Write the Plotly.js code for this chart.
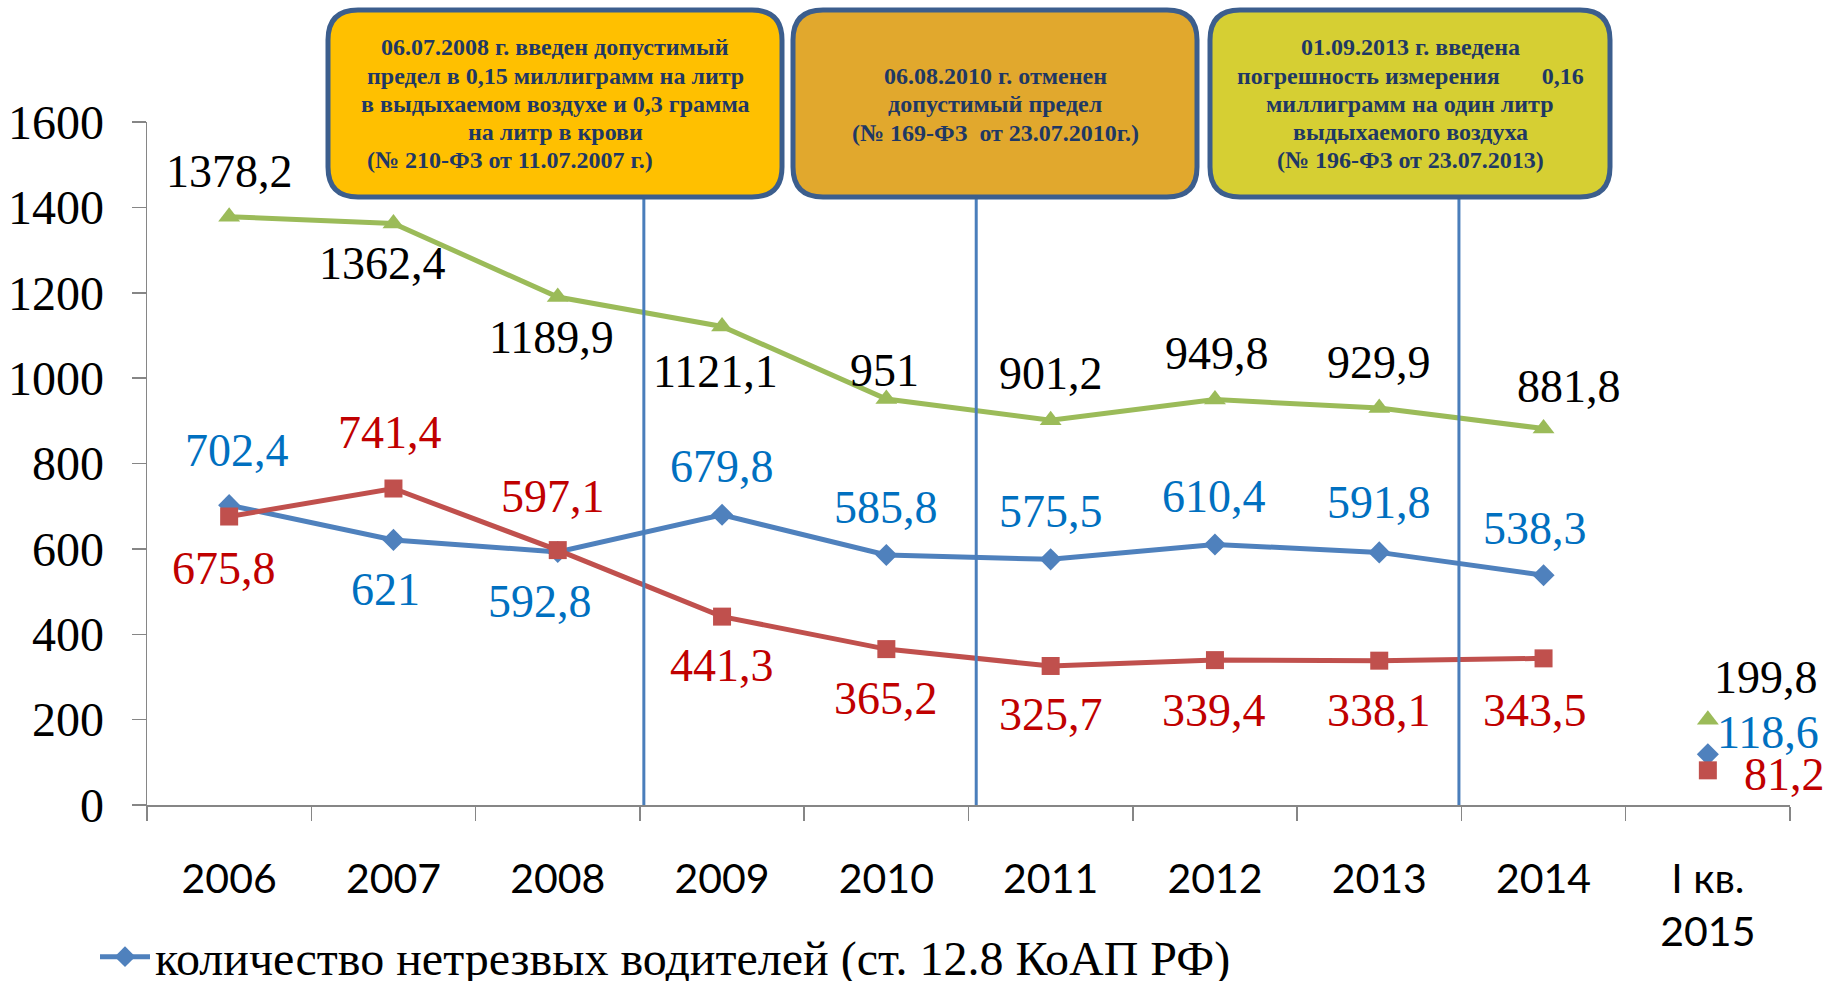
<!DOCTYPE html>
<html><head><meta charset="utf-8">
<script src="https://cdn.plot.ly/plotly-3.0.1.min.js"></script>
<style>html,body{margin:0;padding:0;background:#fff;overflow:hidden}#chart{width:1831px;height:981px}</style>
</head><body><div id="chart"></div>
<script>
// ---- data ----
const categories = ['2006','2007','2008','2009','2010','2011','2012','2013','2014','I кв.<br>2015'];
const drunkDrivers = [702.4, 621, 592.8, 679.8, 585.8, 575.5, 610.4, 591.8, 538.3, 118.6];
const seriesRed = [675.8, 741.4, 597.1, 441.3, 365.2, 325.7, 339.4, 338.1, 343.5, 81.2];
const seriesGreen = [1378.2, 1362.4, 1189.9, 1121.1, 951, 901.2, 949.8, 929.9, 881.8, 199.8];
const yTickVals = [0, 200, 400, 600, 800, 1000, 1200, 1400, 1600];
const nameBlue = 'количество нетрезвых водителей (ст. 12.8 КоАП РФ)';
const nameRed = 'Ряд 2';
const nameGreen = 'Ряд 3';
const eventPos = [2.524, 4.547, 7.485];
const eventLines = [
  ['06.07.2008 г. введен допустимый','предел в 0,15 миллиграмм на литр','в выдыхаемом воздухе и 0,3 грамма','на литр в крови','(№ 210-ФЗ от 11.07.2007 г.)'],
  ['06.08.2010 г. отменен','допустимый предел','(№ 169-ФЗ  от 23.07.2010г.)'],
  ['01.09.2013 г. введена','погрешность измерения\u00a0\u00a0\u00a0\u00a0\u00a0\u00a0 0,16','миллиграмм на один литр','выдыхаемого воздуха','(№ 196-ФЗ от 23.07.2013)']
];

// ---- styles / label offsets (px) ----
const offGreen = [[0,45],[-11,-40],[-6,-40],[-7,-45],[-2,29],[0,47],[2,46],[0,46],[25,42],[58,42]];
const offBlue  = [[8,55],[-8,-50],[-18,-50],[0,48],[0,47],[0,48],[-1,48],[0,50],[-9,47],[60,22]];
const offRed   = [[-5,-52],[-3,56],[-5,54],[0,-49],[0,-49],[0,-49],[-1,-50],[0,-50],[-9,-52],[77,-4]];

const cBlue='#4F81BD', cRed='#C0504D', cGreen='#9BBB59';
const n = 9;
function fmt(v){return String(v).replace('.', ',');}

function mk(name, vals, color, symbol, size, legend){
  return [
    {type:'scatter', mode:'lines+markers', x:categories.slice(0,n), y:vals.slice(0,n), name:name,
     line:{color:color,width:5}, marker:{symbol:symbol,size:size,color:color}, showlegend:legend, hoverinfo:'x+y'},
    {type:'scatter', mode:'markers', x:categories.slice(n), y:vals.slice(n), name:name,
     marker:{symbol:symbol,size:size,color:color}, showlegend:false, hoverinfo:'x+y'}
  ];
}
const traces = [].concat(
  mk(nameBlue, drunkDrivers, cBlue, 'diamond', 17, true),
  mk(nameRed, seriesRed, cRed, 'square', 18, false),
  mk(nameGreen, seriesGreen, cGreen, 'triangle-up', 19, false)
);

const annotations = [];
function addLabels(vals, offs, color){
  vals.forEach((v,i)=>annotations.push({x:i, y:v, xref:'x', yref:'y', text:fmt(v), showarrow:false,
    xanchor:'center', yanchor:'middle',
    xshift:offs[i][0], yshift:offs[i][1], font:{family:'Liberation Serif, Times New Roman, serif', size:46, color:color}}));
}
addLabels(seriesGreen, offGreen, '#000000');
addLabels(drunkDrivers, offBlue, '#0070C0');
addLabels(seriesRed, offRed, '#C00000');

// boxes (paper coords)
const PL=147, PW=1643, PB=805, PH=683;
function px2x(p){return (p-PL)/PW;}
function px2y(p){return (PB-p)/PH;}
const boxes = [
  {x0:328, x1:782, fill:'#FFC000', tx:[555,555,555,555,510], y0:47.5, dy:28.2},
  {x0:793, x1:1197, fill:'#E1A82D', tx:[995,995,995], y0:75.9, dy:28.5},
  {x0:1210, x1:1610, fill:'#D6CF33', tx:[1410,1410,1410,1410,1410], y0:47.5, dy:28.2}
];
const boxTop=10, boxBot=197, rad=30;
function rrect(a,b,c,d){ // pixels -> paper path
  const X=px2x, Y=px2y;
  return 'M'+X(a+rad)+','+Y(b)+' L'+X(c-rad)+','+Y(b)+' Q'+X(c)+','+Y(b)+' '+X(c)+','+Y(b+rad)+
    ' L'+X(c)+','+Y(d-rad)+' Q'+X(c)+','+Y(d)+' '+X(c-rad)+','+Y(d)+' L'+X(a+rad)+','+Y(d)+
    ' Q'+X(a)+','+Y(d)+' '+X(a)+','+Y(d-rad)+' L'+X(a)+','+Y(b+rad)+' Q'+X(a)+','+Y(b)+' '+X(a+rad)+','+Y(b)+' Z';
}
const shapes = [];
eventPos.forEach(p=>shapes.push({type:'line', xref:'x', yref:'paper', x0:p, x1:p, y0:0, y1:px2y(boxBot), line:{color:'#4A7EBB', width:3}}));
const boxFont = {family:'Liberation Serif, Times New Roman, serif', size:24, color:'#1F3864'};
boxes.forEach((b,i)=>{
  shapes.push({type:'path', xref:'paper', yref:'paper', path:rrect(b.x0,boxTop,b.x1,boxBot), fillcolor:b.fill, line:{color:'#3C5E8D', width:5}});
  eventLines[i].forEach((t,k)=>annotations.push({xref:'paper', yref:'paper', x:px2x(b.tx[k]), y:px2y(b.y0+k*b.dy),
    xanchor:'center', yanchor:'middle', text:'<b>'+t+'</b>', showarrow:false, font:boxFont}));
});

const layout = {
  width:1831, height:981,
  margin:{l:147, r:41, t:122, b:176, autoexpand:false},
  paper_bgcolor:'#fff', plot_bgcolor:'#fff',
  showlegend:true,
  legend:{x:px2x(95), y:px2y(957), xanchor:'left', yanchor:'middle', orientation:'h', itemwidth:50,
    font:{family:'Liberation Serif, Times New Roman, serif', size:48, color:'#000'}, bgcolor:'rgba(0,0,0,0)'},
  xaxis:{type:'category', categoryorder:'array', categoryarray:categories, range:[-0.5,9.5], showgrid:false, zeroline:false,
    showline:true, linecolor:'#868686', linewidth:1.5, ticks:'outside', ticklen:14, tickwidth:1.5, tickcolor:'#868686',
    tickson:'boundaries', ticklabelstandoff:37, tickfont:{family:'Lato, sans-serif', size:41, color:'#000'}},
  yaxis:{range:[0,1600], tickvals:yTickVals, ticktext:yTickVals.map(String), showgrid:false, zeroline:false,
    showline:true, linecolor:'#868686', linewidth:1.5, ticks:'outside', ticklen:14, tickwidth:1.5, tickcolor:'#868686',
    ticklabelstandoff:18, tickfont:{family:'Liberation Serif, Times New Roman, serif', size:48, color:'#000'}},
  shapes:shapes, annotations:annotations
};
Plotly.newPlot('chart', traces, layout, {displayModeBar:false, staticPlot:true});
</script></body></html>
